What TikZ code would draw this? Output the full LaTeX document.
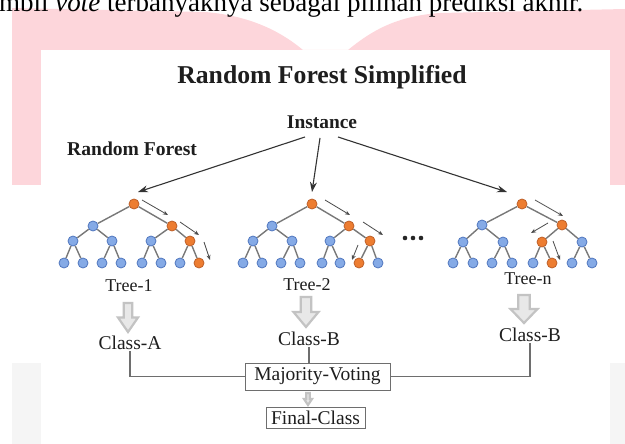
\documentclass[tikz,border=0pt]{standalone}
\usepackage{fontspec}
\setmainfont{Liberation Serif}
\usetikzlibrary{arrows.meta}
\definecolor{pinkbg}{RGB}{253,214,219}
\definecolor{graybg}{RGB}{245,245,245}
\definecolor{bfill}{RGB}{133,170,230}
\definecolor{bdraw}{RGB}{80,118,190}
\definecolor{ofill}{RGB}{237,125,49}
\definecolor{odraw}{RGB}{190,95,40}
\definecolor{edgec}{RGB}{120,120,120}
\definecolor{txt}{RGB}{30,30,30}
\definecolor{connc}{RGB}{110,110,110}
\definecolor{barrd}{RGB}{195,195,195}
\definecolor{barrf}{RGB}{232,232,232}
\newcommand{\blockarr}[4]{%
  \filldraw[draw=barrd,fill=barrf,line width=2.2pt,line join=miter]
    ({#1-0.21*#4},{#2}) -- ({#1+0.21*#4},{#2}) -- ({#1+0.21*#4},{#2+0.5*(#3-#2)})
    -- ({#1+0.5*#4},{#2+0.5*(#3-#2)}) -- ({#1},{#3}) -- ({#1-0.5*#4},{#2+0.5*(#3-#2)})
    -- ({#1-0.21*#4},{#2+0.5*(#3-#2)}) -- cycle;}
\begin{document}
\begin{tikzpicture}[x=1pt,y=-1pt,
  bnode/.style={circle,fill=bfill,draw=bdraw,line width=0.8pt,minimum size=10pt,inner sep=0pt},
  onode/.style={circle,fill=ofill,draw=odraw,line width=0.8pt,minimum size=10pt,inner sep=0pt},
  edge/.style={draw=edgec,line width=1.4pt},
  instarrow/.style={draw=black!80,line width=1.1pt,-{Stealth[length=10pt,width=7pt]}},
  patharrow/.style={draw=black!70,line width=0.8pt,-{Stealth[length=5pt,width=4pt]}},
  lab/.style={text=txt,inner sep=1pt,font=\fontsize{18}{20}\selectfont},
  clab/.style={text=txt,inner sep=1pt,font=\fontsize{19.5}{22}\selectfont},
  boxn/.style={draw=connc,line width=1pt,text=txt,inner sep=0pt,font=\fontsize{19.5}{22}\selectfont},
  conn/.style={draw=connc,line width=1.3pt},
  dotn/.style={circle,fill=black!85,inner sep=0pt,minimum size=4.6pt}]
\useasboundingbox (0,0) rectangle (625,444);
\clip (0,0) rectangle (625,444);
% background
\fill[pinkbg] (12,8) -- (205,12) .. controls (255,16) and (285,35) .. (303,50) -- (348,50)
  .. controls (370,32) and (395,16) .. (440,13) -- (625,9) -- (625,185) -- (12,185) -- cycle;
\fill[graybg] (12,363) rectangle (41,444);
\fill[graybg] (610,363) rectangle (625,444);
\fill[white] (41,50) rectangle (610,444);
% top cropped text
\node[anchor=base west,inner sep=0pt,text=black,font=\fontsize{27}{30}\selectfont] (toptext) at (-1,12)
  {mbil \textit{vote} terbanyaknya sebagai pilihan prediksi akhir.};
% titles
\node[text=txt,inner sep=0pt,font=\fontsize{25.7}{28}\selectfont\bfseries] (title) at (322,77) {Random Forest Simplified};
\node[text=txt,inner sep=0pt,font=\fontsize{19.4}{22}\selectfont\bfseries] (inst) at (322,122) {Instance};
\node[text=txt,inner sep=0pt,anchor=west,font=\fontsize{19.6}{22}\selectfont\bfseries] (rf) at (67,149) {Random Forest};
% tree nodes
\foreach \n/\x/\y/\s in {
  t1r/134/204/onode, t1a/93/226/bnode, t1b/172/226/onode,
  t1c/73/241/bnode, t1d/112/241/bnode, t1e/151/241/bnode, t1f/190/241/onode,
  t1l1/64/263/bnode, t1l2/83/263/bnode, t1l3/102/263/bnode, t1l4/121/263/bnode,
  t1l5/142/263/bnode, t1l6/161/263/bnode, t1l7/180/263/bnode, t1l8/199/263/onode,
  t2r/312/204/onode, t2a/272/226/bnode, t2b/349/226/onode,
  t2c/253/241/bnode, t2d/292/241/bnode, t2e/330/241/bnode, t2f/370/241/onode,
  t2l1/243/263/bnode, t2l2/262/263/bnode, t2l3/281/263/bnode, t2l4/300/263/bnode,
  t2l5/322/263/bnode, t2l6/340/263/bnode, t2l7/359/263/onode, t2l8/378/263/bnode,
  tnr/522/204/onode, tna/482/225/bnode, tnb/562/225/onode,
  tnc/463/242/bnode, tnd/503/242/bnode, tne/542/242/onode, tnf/582/242/bnode,
  tnl1/453/263/bnode, tnl2/473/263/bnode, tnl3/492/263/bnode, tnl4/512/263/bnode,
  tnl5/533/263/bnode, tnl6/552/263/onode, tnl7/572/263/bnode, tnl8/592/263/bnode}
  \node[\s] (\n) at (\x,\y) {};
\foreach \t in {t1,t2,tn}
  \foreach \p/\q in {r/a,r/b,a/c,a/d,b/e,b/f,c/l1,c/l2,d/l3,d/l4,e/l5,e/l6,f/l7,f/l8}
    \draw[edge] (\t\p) -- (\t\q);
% path arrows
\foreach \n/\x/\y in {
  p1s/142/200, p1e/168/215, p2s/180/222, p2e/199/235, p3s/204/242, p3e/210/260,
  q1s/325/200, q1e/350/215, q2s/363/222, q2e/383/235, q3s/358/245, q3e/352/260,
  r1s/535/200, r1e/563/216, r2s/548/223, r2e/531/233, r3s/553/241, r3e/560/260}
  \coordinate (\n) at (\x,\y);
\foreach \a in {p,q,r}
  \foreach \i in {1,2,3}
    \draw[patharrow] (\a\i s) -- (\a\i e);
% instance arrows
\coordinate (i1s) at (305,137); \coordinate (i1e) at (138,192);
\coordinate (i2s) at (320,138); \coordinate (i2e) at (312,192);
\coordinate (i3s) at (338,137); \coordinate (i3e) at (507,192);
\draw[instarrow] (i1s) -- (i1e);
\draw[instarrow] (i2s) -- (i2e);
\draw[instarrow] (i3s) -- (i3e);
% dots
\node[dotn] (d1) at (405,238) {};
\node[dotn] (d2) at (413,238) {};
\node[dotn] (d3) at (421,238) {};
% tree labels
\node[lab] (tl1) at (129,286) {Tree-1};
\node[lab] (tl2) at (307,285) {Tree-2};
\node[lab] (tln) at (528,279) {Tree-n};
% block arrows
\blockarr{128}{303}{332}{20}
\blockarr{306}{297}{327}{25}
\blockarr{524}{295}{323}{27}
\blockarr{308}{393}{405}{8}
% class labels
\node[clab] (ca) at (130,343) {Class-A};
\node[clab] (cb) at (309,339) {Class-B};
\node[clab] (cn) at (530,335) {Class-B};
% boxes
\node[boxn,minimum width=145pt,minimum height=27pt] (major) at (317.5,376.5) {Majority-Voting};
\node[boxn,minimum width=99pt,minimum height=21pt] (final) at (315.5,417.5) {Final-Class};
% connectors
\draw[conn] (ca.south) |- (major.west);
\draw[conn] (cb.south) -- (cb.south |- major.north);
\draw[conn] (cn.south) |- (major.east);
\end{tikzpicture}
\end{document}
